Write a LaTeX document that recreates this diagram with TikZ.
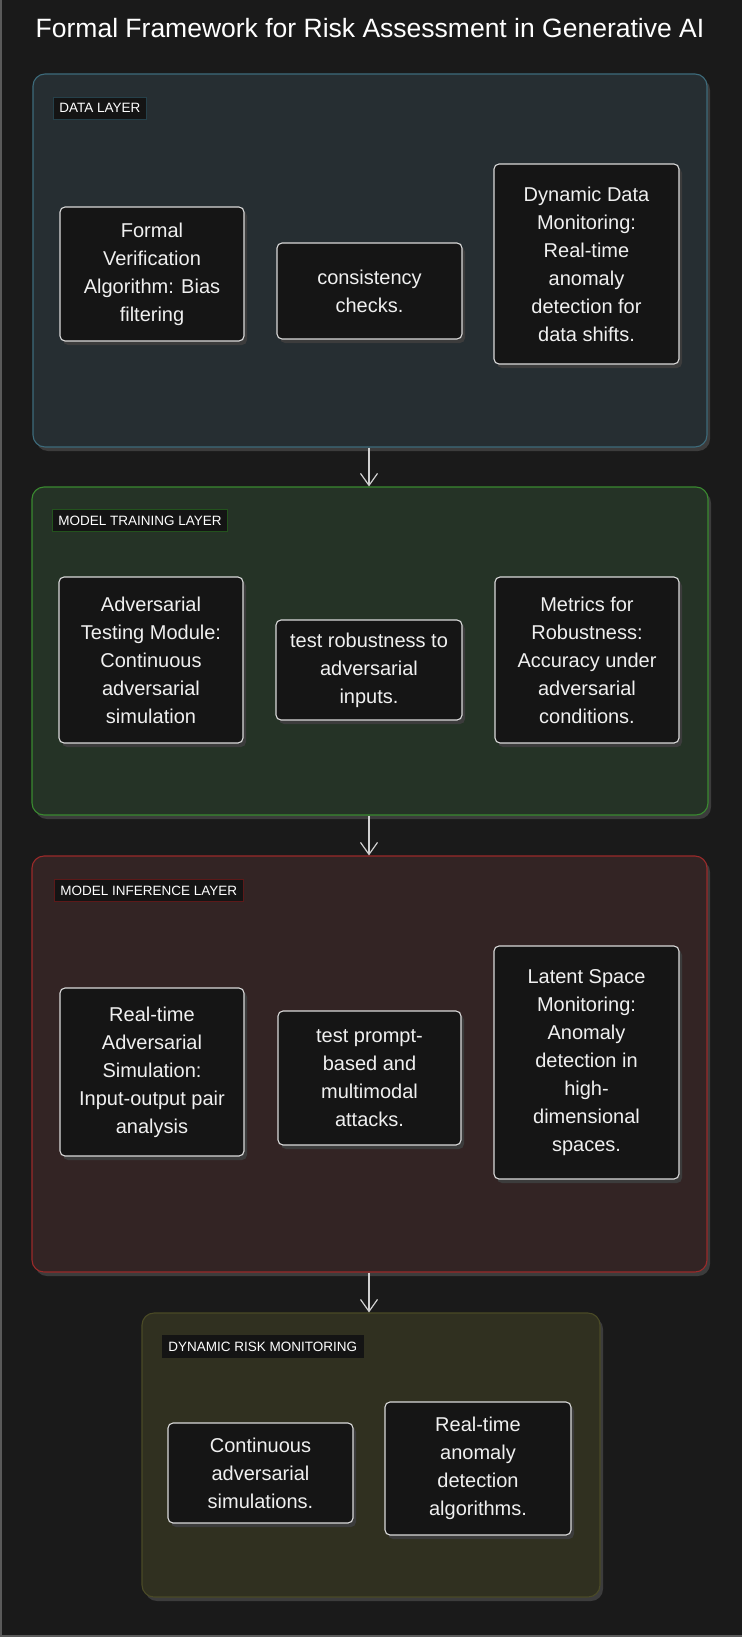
\documentclass[tikz,border=0pt]{standalone}
\usepackage{fontspec}
\setmainfont{Liberation Sans}
\usetikzlibrary{arrows.meta,shadows}
\definecolor{bg}{HTML}{1A1A1A}
\definecolor{edgec}{HTML}{5A5A5A}
\definecolor{boxfill}{HTML}{151515}
\definecolor{boxline}{HTML}{DADADA}
\definecolor{shadowc}{HTML}{3C3C3C}
\definecolor{arrowc}{HTML}{D0D0D0}
\definecolor{datafill}{HTML}{262E32}
\definecolor{dataline}{HTML}{3D6B7B}
\definecolor{trainfill}{HTML}{253326}
\definecolor{trainline}{HTML}{3A8A30}
\definecolor{inffill}{HTML}{332424}
\definecolor{infline}{HTML}{9A2A2A}
\definecolor{dynfill}{HTML}{303020}
\definecolor{dynline}{HTML}{4A4A26}
\definecolor{labfill}{HTML}{141414}
\begin{document}
\begin{tikzpicture}[x=1pt,y=-1pt,
  layer/.style={rounded corners=12pt, line width=1.1pt, inner sep=0pt,
    general shadow={fill=shadowc, shadow xshift=3pt, shadow yshift=-4pt}},
  inbox/.style={draw=boxline, line width=1.1pt, fill=boxfill, rounded corners=5pt,
    text=white!94!black, align=center, inner sep=0pt,
    font=\fontsize{20}{28}\selectfont,
    general shadow={fill=shadowc, shadow xshift=3pt, shadow yshift=-4pt}},
  lab/.style={fill=labfill, line width=0.8pt, text=white, anchor=west,
    inner xsep=6pt, inner ysep=0pt, minimum height=22pt,
    font=\fontsize{13.5}{15}\selectfont},
  conn/.style={draw=arrowc, line width=1.2pt, -{Straight Barb[length=12pt,width=17pt,line width=1.2pt]}}
]
\fill[bg] (0,0) rectangle (742,1637);
\fill[edgec] (0,0) rectangle (2,1637);
\fill[edgec] (0,1635) rectangle (742,1637);
\useasboundingbox (0,0) rectangle (742,1637);

\node[text=white, anchor=base, font=\fontsize{26.5}{30}\selectfont] (title) at (370,38)
  {Formal Framework for Risk Assessment in Generative AI};

% layers
\node[layer, fill=datafill, draw=dataline, minimum width=674pt, minimum height=373pt] (data) at (370,260.5) {};
\node[layer, fill=trainfill, draw=trainline, minimum width=676pt, minimum height=328pt] (train) at (370,651) {};
\node[layer, fill=inffill, draw=infline, minimum width=675pt, minimum height=416pt] (inf) at (369.5,1064) {};
\node[layer, fill=dynfill, draw=dynline, minimum width=458pt, minimum height=284pt] (dyn) at (371,1455) {};

% labels
\node[lab, draw=dataline!60!black] (ldata) at (53,108) {DATA LAYER};
\node[lab, draw=trainline!60!black] (ltrain) at (52,520.5) {MODEL TRAINING LAYER};
\node[lab, draw=infline!60!black] (linf) at (54,890.5) {MODEL INFERENCE LAYER};
\node[lab, draw=labfill] (ldyn) at (162,1346.5) {DYNAMIC RISK MONITORING};

% data layer boxes
\node[inbox, minimum width=184pt, minimum height=134pt] (d1) at (152,274)
  {Formal\\Verification\\Algorithm: Bias\\filtering};
\node[inbox, minimum width=185pt, minimum height=96pt] (d2) at (369.5,291)
  {consistency\\checks.};
\node[inbox, minimum width=185pt, minimum height=200pt] (d3) at (586.5,264)
  {Dynamic Data\\Monitoring:\\Real-time\\anomaly\\detection for\\data shifts.};

% training layer boxes
\node[inbox, minimum width=184pt, minimum height=166pt] (a1) at (151,660)
  {Adversarial\\Testing Module:\\Continuous\\adversarial\\simulation};
\node[inbox, minimum width=186pt, minimum height=100pt] (a2) at (369,670)
  {test robustness to\\adversarial\\inputs.};
\node[inbox, minimum width=184pt, minimum height=166pt] (a3) at (587,660)
  {Metrics for\\Robustness:\\Accuracy under\\adversarial\\conditions.};

% inference layer boxes
\node[inbox, minimum width=184pt, minimum height=168pt] (b1) at (152,1072)
  {Real-time\\Adversarial\\Simulation:\\Input-output pair\\analysis};
\node[inbox, minimum width=183pt, minimum height=134pt] (b2) at (369.5,1078)
  {test prompt-\\based and\\multimodal\\attacks.};
\node[inbox, minimum width=185pt, minimum height=233pt] (b3) at (586.5,1062.5)
  {Latent Space\\Monitoring:\\Anomaly\\detection in\\high-\\dimensional\\spaces.};

% dynamic monitoring boxes
\node[inbox, minimum width=185pt, minimum height=100pt] (c1) at (260.5,1473)
  {Continuous\\adversarial\\simulations.};
\node[inbox, minimum width=186pt, minimum height=133pt] (c2) at (478,1468.5)
  {Real-time\\anomaly\\detection\\algorithms.};

% connectors
\draw[conn] ([xshift=-1pt]data.south) -- ([xshift=-1pt]data.south |- train.north);
\draw[conn] ([xshift=-1pt]train.south) -- ([xshift=-1pt]train.south |- inf.north);
\draw[conn] ([xshift=-0.5pt]inf.south) -- ([xshift=-0.5pt]inf.south |- dyn.north);
\end{tikzpicture}
\end{document}
